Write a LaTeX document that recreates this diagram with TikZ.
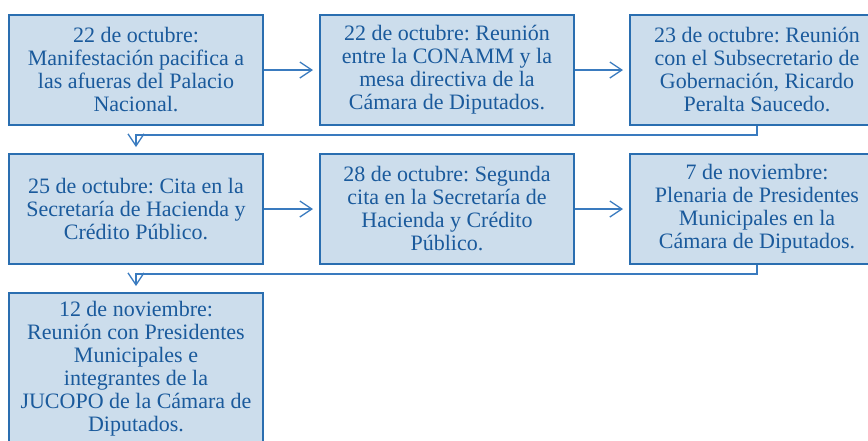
\documentclass[tikz,border=0pt]{standalone}
\usepackage{fontspec}
\setmainfont{Liberation Serif}
\usetikzlibrary{arrows.meta}
\definecolor{boxfill}{HTML}{CCDDEC}
\definecolor{boxline}{HTML}{2A6EB0}
\definecolor{txtc}{HTML}{1A5A9C}
\definecolor{connc}{HTML}{3A7BBF}
\begin{document}
\frenchspacing
\begin{tikzpicture}[x=1pt,y=-1pt,
  evbox/.style={draw=boxline, line width=2pt, fill=boxfill, text=txtc,
    minimum width=254pt, minimum height=110pt, inner sep=0pt, align=center,
    font=\fontsize{22}{23}\selectfont},
  conn/.style={draw=connc, line width=1.3pt,
    -{Straight Barb[length=12pt,width=16pt]}, shorten >=6pt}]
\useasboundingbox (0,0) rectangle (868,440);
\clip (0,0) rectangle (868,440);
\node[evbox] (b1) at (136,70) {22 de octubre:\\Manifestación pacifica a\\las afueras del Palacio\\Nacional.};
\node[evbox] (b2) at (447,70) {22 de octubre: Reunión\\entre la CONAMM y la\\mesa directiva de la\\Cámara de Diputados.};
\node[evbox] (b3) at (757,70) {23 de octubre: Reunión\\con el Subsecretario de\\Gobernación, Ricardo\\Peralta Saucedo.};
\node[evbox] (b4) at (136,209) {25 de octubre: Cita en la\\Secretaría de Hacienda y\\Crédito Público.};
\node[evbox] (b5) at (447,209) {28 de octubre: Segunda\\cita en la Secretaría de\\Hacienda y Crédito\\Público.};
\node[evbox] (b6) at (757,209) {7 de noviembre:\\Plenaria de Presidentes\\Municipales en la\\Cámara de Diputados.};
\node[evbox, minimum height=152pt] (b7) at (136,369) {12 de noviembre:\\Reunión con Presidentes\\Municipales e\\integrantes de la\\JUCOPO de la Cámara de\\Diputados.};
\draw[conn] (b1) -- (b2);
\draw[conn] (b2) -- (b3);
\draw[conn] (b4) -- (b5);
\draw[conn] (b5) -- (b6);
\draw[conn] (b3.south) -- ++(0,9) -| (b4.north);
\draw[conn] (b6.south) -- ++(0,9) -| (b7.north);
\end{tikzpicture}
\end{document}
